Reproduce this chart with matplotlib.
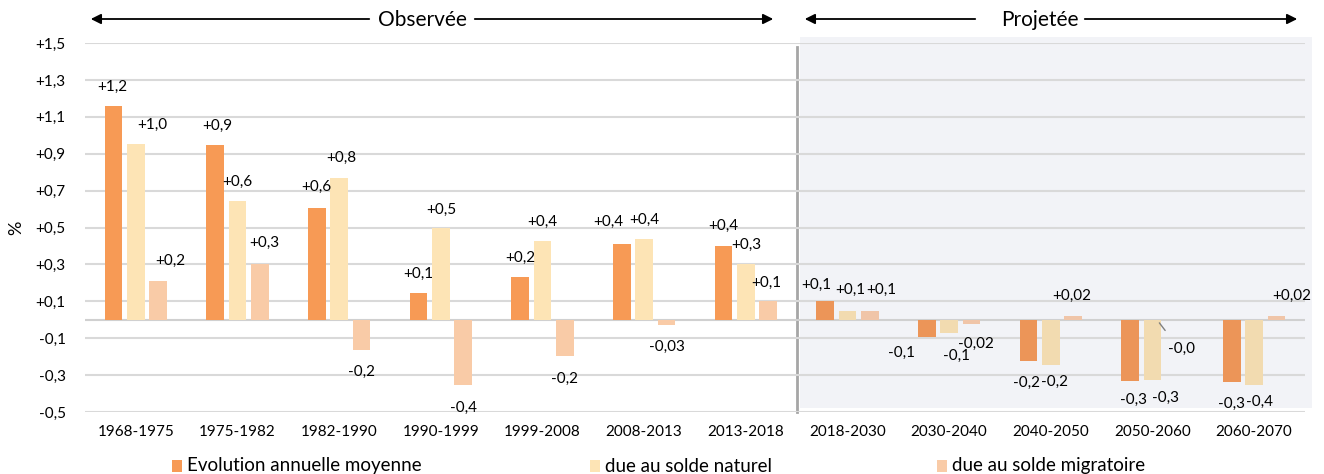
import matplotlib.pyplot as plt
from matplotlib.patches import Rectangle
import numpy as np

plt.rcParams['font.family'] = ['Lato', 'DejaVu Sans']

# data
periods = ['1968-1975', '1975-1982', '1982-1990', '1990-1999', '1999-2008', '2008-2013',
           '2013-2018', '2018-2030', '2030-2040', '2040-2050', '2050-2060', '2060-2070']
evolution = [1.16, 0.947, 0.607, 0.145, 0.229, 0.412, 0.401, 0.103, -0.096, -0.226, -0.332, -0.336]
naturel = [0.952, 0.641, 0.771, 0.499, 0.428, 0.439, 0.300, 0.049, -0.072, -0.246, -0.327, -0.354]
migratoire = [0.208, 0.303, -0.164, -0.354, -0.199, -0.027, 0.099, 0.049, -0.024, 0.020, -0.003, 0.018]

lab_evol = ['+1,2', '+0,9', '+0,6', '+0,1', '+0,2', '+0,4', '+0,4', '+0,1', '-0,1', '-0,2', '-0,3', '-0,3']
lab_nat = ['+1,0', '+0,6', '+0,8', '+0,5', '+0,4', '+0,4', '+0,3', '+0,1', '-0,1', '-0,2', '-0,3', '-0,4']
lab_mig = ['+0,2', '+0,3', '-0,2', '-0,4', '-0,2', '-0,03', '+0,1', '+0,1', '-0,02', '+0,02', '-0,0', '+0,02']

# label offsets in pixels (dx, dy) relative to the bar end
off_evol = [(-1, 19), (2, 19), (0, 21), (0, 19), (0, 20), (-13, 22), (0, 20), (-9, 16),
            (-25, -15), (-2, -21), (3, -19), (0, -22)]
off_nat = [(16, 19), (0, 20), (2, 20), (0, 18), (0, 19), (0, 19), (0, 20), (3, 21),
           (7, -23), (4, -17), (13, -18), (5, -17)]
off_mig = [(12, 20), (4, 21), (0, -22), (0, -23), (0, -22), (0, -22), (-2, 19), (11, 21),
           (4, -20), (-2, 20), (7, -29), (15, 21)]

obs_cols = ['#F79A55', '#FDE4B5', '#F9CBA7']
proj_cols = ['#EC9558', '#F2DBB0', '#F0C5A8']

fig = plt.figure(figsize=(13.24, 4.74), dpi=100)
ax = fig.add_axes([85/1324, 62/474, 1220/1324, 369/474])

x = np.arange(len(periods))
w = 0.174
step = 0.221
series = [evolution, naturel, migratoire]
labels = [lab_evol, lab_nat, lab_mig]
offsets = [off_evol, off_nat, off_mig]

# shaded projection area
ax.add_patch(Rectangle((6.53, -0.48), 5.04, 2.01, facecolor='#F2F3F7', edgecolor='none',
                       zorder=0, clip_on=False))
ax.plot([6.5, 6.5], [-0.5, 1.48], color='#A6A6A6', lw=2, zorder=1, clip_on=False)

for k in range(3):
    cols = [obs_cols[k] if i < 7 else proj_cols[k] for i in range(len(periods))]
    pos = x + (k - 1) * step
    ax.bar(pos, series[k], width=w, color=cols, zorder=3)
    for i in range(len(periods)):
        dx, dy = offsets[k][i]
        ax.annotate(labels[k][i], (pos[i], series[k][i]), xytext=(dx, dy),
                    textcoords='offset pixels', ha='center', va='center',
                    fontsize=11, color='black', zorder=5)

# leader line for -0,0
ax.annotate('', (pos[10] - 0.17, -0.005), xytext=(pos[10] - 0.08, -0.07),
            arrowprops=dict(arrowstyle='-', color='#808080', lw=1))

ax.set_xlim(-0.5, 11.5)
ax.set_ylim(-0.5, 1.5)
yt = np.round(np.arange(-0.5, 1.51, 0.2), 1)
ax.set_yticks(yt)
ax.set_yticklabels([('+' if v > 0 else '') + f'{v:.1f}'.replace('.', ',') for v in yt])
ax.set_xticks(x)
ax.set_xticklabels(periods)
ax.tick_params(length=0, labelsize=11, pad=9)
ax.tick_params(axis='y', pad=14)
for v in yt:
    ax.axhline(v, color='#D9D9D9', lw=1.5, zorder=1)
ax.axhline(0, color='#D0D0D0', lw=1.5, zorder=2)
for s in ax.spines.values():
    s.set_visible(False)
ax.set_ylabel('%', fontsize=13, labelpad=8)

# header arrows
def header(text, xc, x0, x1, gap_l, gap_r):
    fig.text(xc / 1324, 1 - 20 / 474, text, ha='center', va='center', fontsize=15)
    y = 1 - 19 / 474
    ap = dict(arrowstyle='-|>', color='black', lw=1.3, mutation_scale=15)
    ax.annotate('', xy=(x0 / 1324, y), xytext=((xc - gap_l) / 1324, y),
                xycoords='figure fraction', textcoords='figure fraction', arrowprops=ap)
    ax.annotate('', xy=(x1 / 1324, y), xytext=((xc + gap_r) / 1324, y),
                xycoords='figure fraction', textcoords='figure fraction', arrowprops=ap)

header('Observée', 422, 88, 776, 50, 50)
header('Projetée', 1040, 802, 1300, 62, 42)

# legend
leg_names = ['Evolution annuelle moyenne', 'due au solde naturel', 'due au solde migratoire']
leg_x = [172, 590, 937]
for k in range(3):
    fig.add_artist(Rectangle((leg_x[k] / 1324, 1 - 472 / 474), 10 / 1324, 12 / 474,
                             facecolor=obs_cols[k], edgecolor='none'))
    fig.text((leg_x[k] + 15) / 1324, 1 - 466 / 474, leg_names[k], ha='left', va='center',
             fontsize=13.5)

fig.savefig('out.png', dpi=100)
